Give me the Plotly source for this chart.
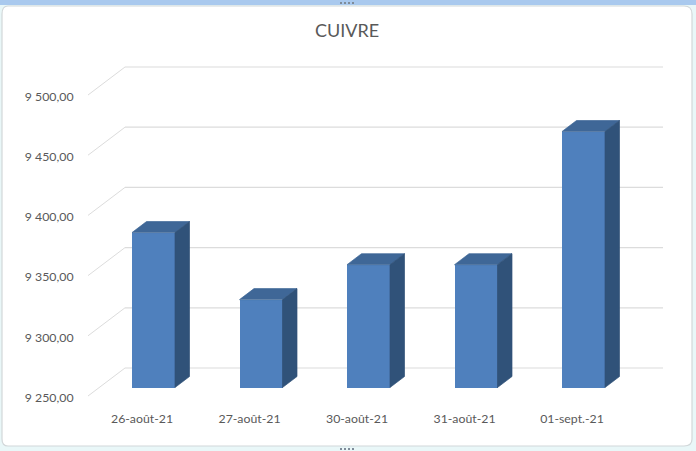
import plotly.graph_objects as go

categories = ["26-août-21", "27-août-21", "30-août-21", "31-août-21", "01-sept.-21"]
values = [9378.7, 9323.0, 9352.0, 9352.0, 9462.6]
y_ticks = [9250, 9300, 9350, 9400, 9450, 9500]
y_tick_labels = ["9 250,00", "9 300,00", "9 350,00", "9 400,00", "9 450,00", "9 500,00"]

W, H = 696, 451
L, R, T, B = 80, 670, 50, 410
PX_PER_UNIT = 1.204
BASE = 9250
X0_PX, STEP_PX = 153.5, 107.5
BASE_PX = 387.5


def ux(px):
    return px / STEP_PX


def uy(px):
    return px / PX_PER_UNIT


def px_x(px):
    return (px - L) / (R - L)


def px_y(py):
    return (B - py) / (B - T)


x_range = [(L - X0_PX) / STEP_PX, (R - X0_PX) / STEP_PX]
y_range = [BASE - (B - BASE_PX) / PX_PER_UNIT, BASE + (BASE_PX - T) / PX_PER_UNIT]

bar_w = ux(43)
dx, dy = ux(14.5), uy(11)
xs = list(range(len(categories)))

grid_front_dx, grid_front_dy = ux(88 - X0_PX), uy(387.5 - 396)
grid_back_dx, grid_back_dy = ux(125 - X0_PX), uy(387.5 - 368)
grid_end = ux(663 - X0_PX)
label_dy = uy(-1.5)

fig = go.Figure()

fig.add_trace(go.Bar(
    x=xs, y=[v - BASE for v in values], base=BASE, width=bar_w,
    marker=dict(color="#4f80bd", line=dict(width=0)), showlegend=False,
))

top_x, top_y, side_x, side_y = [], [], [], []
for x, v in zip(xs, values):
    l, r = x - bar_w / 2, x + bar_w / 2
    top_x += [l, l + dx, r + dx, r, l, None]
    top_y += [v, v + dy, v + dy, v, v, None]
    side_x += [r, r + dx, r + dx, r, r, None]
    side_y += [v, v + dy, BASE + dy, BASE, v, None]

fig.add_trace(go.Scatter(x=top_x, y=top_y, mode="lines", fill="toself", fillcolor="#3f6797",
                         line=dict(width=0.7, color="#3f6797"), showlegend=False))
fig.add_trace(go.Scatter(x=side_x, y=side_y, mode="lines", fill="toself", fillcolor="#305279",
                         line=dict(width=0.7, color="#305279"), showlegend=False))

shapes = []
# window background
shapes.append(dict(type="rect", xref="paper", yref="paper", x0=-1, x1=2, y0=-1, y1=2, layer="below",
                   fillcolor="#e9f7f8", line=dict(width=0)))
shapes.append(dict(type="path", xref="paper", yref="paper", layer="below",
                   path="M {0},{1} L {2},{1} Q {3},{1} {3},{4} L {3},{5} Q {3},{6} {2},{6} L {0},{6} Q {7},{6} {7},{5} L {7},{4} Q {7},{1} {0},{1} Z".format(
                       px_x(8), px_y(6), px_x(684), px_x(692), px_y(14), px_y(439), px_y(446), px_x(2)),
                   fillcolor="white", line=dict(color="#d2d7d9", width=1.2)))
shapes.append(dict(type="rect", xref="paper", yref="paper", layer="below",
                   x0=px_x(0), x1=px_x(W), y0=px_y(5), y1=px_y(0),
                   fillcolor="#a9c9ee", line=dict(width=0)))
# sizing handles
for cy in (3, 449):
    for cx in (341, 345, 349, 353):
        shapes.append(dict(type="rect", xref="paper", yref="paper", layer="below",
                           x0=px_x(cx - 1), x1=px_x(cx + 1), y0=px_y(cy + 1), y1=px_y(cy - 1),
                           fillcolor="#7f8c9a", line=dict(width=0)))
# 3D gridlines
for t in y_ticks:
    shapes.append(dict(type="line", xref="x", yref="y", x0=grid_front_dx, y0=t + grid_front_dy,
                       x1=grid_back_dx, y1=t + grid_back_dy, layer="below",
                       line=dict(color="#dcdcdc", width=1)))
    shapes.append(dict(type="line", xref="x", yref="y", x0=grid_back_dx, y0=t + grid_back_dy,
                       x1=grid_end, y1=t + grid_back_dy, layer="below",
                       line=dict(color="#dcdcdc", width=1.2)))

font = dict(family="Lato, Carlito, sans-serif", color="#595959")

fig.update_layout(
    width=W, height=H, autosize=False,
    margin=dict(l=L, r=W - R, t=T, b=H - B, pad=0),
    paper_bgcolor="rgba(0,0,0,0)", plot_bgcolor="rgba(0,0,0,0)",
    title=dict(text="CUIVRE", x=347 / W, xanchor="center", y=1 - 31 / H, yanchor="middle",
               font=dict(size=18, **font)),
    shapes=shapes,
    xaxis=dict(range=x_range, tickmode="array", tickvals=[x - ux(11.5) for x in xs], ticktext=categories,
               showgrid=False, zeroline=False, showline=False, ticks="", tickangle=0,
               tickfont=dict(size=12.3, **font)),
    yaxis=dict(range=y_range, tickmode="array", tickvals=[t + grid_front_dy + label_dy for t in y_ticks],
               ticktext=y_tick_labels, showgrid=False, zeroline=False, showline=False, ticks="outside",
               ticklen=3, tickcolor="rgba(0,0,0,0)", tickfont=dict(size=12.3, **font)),
    bargap=0,
)

fig.write_html("out.html", config=dict(displayModeBar=False),
               post_script="document.body.style.margin='0';")
